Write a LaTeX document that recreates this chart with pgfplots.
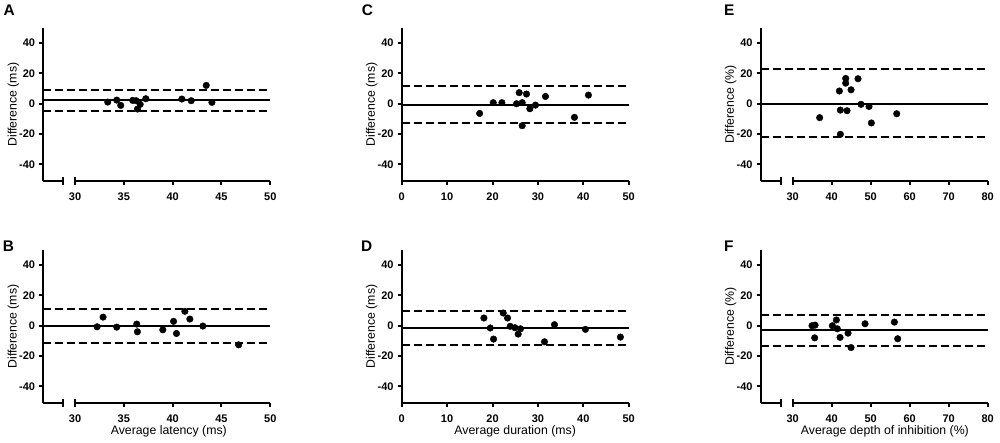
\documentclass[border=0pt]{standalone}
\usepackage{pgfplots}
\pgfplotsset{compat=1.18}
\usepackage{fontspec}
\setmainfont{Liberation Sans}
\newcommand{\tickfont}{\fontsize{11}{12}\selectfont\bfseries}
\newcommand{\labfont}{\fontsize{12.3}{14}\selectfont}
\newcommand{\letfont}{\fontsize{15.4}{17}\selectfont\bfseries}
\tikzset{brk/.style={line width=2pt, black}}
\pgfplotsset{
  bapanel/.style={
    scale only axis, width=227pt, height=153pt,
    ymin=-51, ymax=50,
    axis x line*=bottom, axis y line*=left,
    axis line style={line width=2pt, -},
    ytick={-40,-20,0,20,40}, yticklabels={-40,-20,0,20,40},
    tick align=outside, major tick length=4pt,
    every tick/.style={line width=2pt, black},
    minor tick num=0,
    ticklabel style={font=\tickfont},
    yticklabel style={anchor=east, inner sep=0pt, xshift=-4pt},
    xticklabel style={anchor=base, inner sep=0pt, yshift=-15.5pt},
    every axis y label/.style={at={(axis description cs:-0.132,0.5)}, rotate=90, anchor=center, font=\labfont},
    every axis x label/.style={at={(axis description cs:0.5,-0.185)}, anchor=center, font=\labfont},
    clip=false,
  },
  dots/.style={only marks, mark=*, mark size=3.3pt, mark options={fill=black, draw=black}},
  meanl/.style={line width=2pt, black, no marks},
  limitl/.style={line width=2pt, black, no marks, dash pattern=on 8pt off 4pt},
}
\begin{document}
\begin{tikzpicture}
\useasboundingbox (0,0) rectangle (1000pt,443pt);
% ---------- A ----------
\begin{axis}[bapanel, at={(43.3pt,262pt)}, anchor=south west,
  xmin=26.75, xmax=50, xtick={30,35,40,45,50}, xticklabels={30,35,40,45,50},
  x axis line style={draw=none}, ylabel={Difference (ms)}]
\addplot[meanl] coordinates {(26.75,2.2) (50,2.2)};
\addplot[limitl] coordinates {(26.75,9.2) (50,9.2)};
\addplot[limitl] coordinates {(26.75,-5.1) (50,-5.1)};
\addplot[dots] coordinates {(33.35,1.1) (34.27,2.4) (34.68,-1.1) (35.9,2.2) (36.26,2.0) (36.4,-3.5) (36.67,-0.4) (37.25,3.3) (40.94,3.1) (41.9,2.0) (43.44,12.1) (44.02,0.9)};
\draw[brk] (axis cs:26.75,-51) -- (axis cs:28.8,-51);
\draw[brk] ([yshift=-4pt]axis cs:28.8,-51) -- ([yshift=4pt]axis cs:28.8,-51);
\draw[brk] (axis cs:30,-51) -- (axis cs:50,-51);
\draw[brk] ([yshift=-4pt]axis cs:30,-51) -- ([yshift=4pt]axis cs:30,-51);
\end{axis}
% ---------- B ----------
\begin{axis}[bapanel, at={(43.3pt,40pt)}, anchor=south west,
  xmin=26.75, xmax=50, xtick={30,35,40,45,50}, xticklabels={30,35,40,45,50},
  x axis line style={draw=none}, ylabel={Difference (ms)}, xlabel={Average latency (ms)},
  xlabel style={at={(axis description cs:0.553,-0.185)}}]
\addplot[meanl] coordinates {(26.75,0) (50,0)};
\addplot[limitl] coordinates {(26.75,11.3) (50,11.3)};
\addplot[limitl] coordinates {(26.75,-11.7) (50,-11.7)};
\addplot[dots] coordinates {(32.26,-0.7) (32.87,5.7) (34.27,-0.9) (36.32,1.1) (36.39,-4.0) (38.99,-2.7) (40.09,2.9) (40.39,-5.1) (41.25,9.5) (41.76,4.4) (43.09,-0.2) (46.75,-12.6)};
\draw[brk] (axis cs:26.75,-51) -- (axis cs:28.8,-51);
\draw[brk] ([yshift=-4pt]axis cs:28.8,-51) -- ([yshift=4pt]axis cs:28.8,-51);
\draw[brk] (axis cs:30,-51) -- (axis cs:50,-51);
\draw[brk] ([yshift=-4pt]axis cs:30,-51) -- ([yshift=4pt]axis cs:30,-51);
\end{axis}
% ---------- C ----------
\begin{axis}[bapanel, at={(401.7pt,262pt)}, anchor=south west,
  xmin=0, xmax=50, xtick={0,10,20,30,40,50}, xticklabels={0,10,20,30,40,50},
  ylabel={Difference (ms)}]
\addplot[meanl] coordinates {(0,-0.9) (50,-0.9)};
\addplot[limitl] coordinates {(0,11.9) (50,11.9)};
\addplot[limitl] coordinates {(0,-13.0) (50,-13.0)};
\addplot[dots] coordinates {(17.16,-6.4) (20.16,0.7) (22.07,0.7) (25.29,0) (25.88,7.3) (26.54,0.7) (26.54,-14.5) (27.49,6.4) (28.23,-3.3) (29.47,-0.9) (31.67,4.8) (38.05,-9.0) (41.13,5.7)};
\end{axis}
% ---------- D ----------
\begin{axis}[bapanel, at={(401.7pt,40pt)}, anchor=south west,
  xmin=0, xmax=50, xtick={0,10,20,30,40,50}, xticklabels={0,10,20,30,40,50},
  ylabel={Difference (ms)}, xlabel={Average duration (ms)}]
\addplot[meanl] coordinates {(0,-1.8) (50,-1.8)};
\addplot[limitl] coordinates {(0,9.7) (50,9.7)};
\addplot[limitl] coordinates {(0,-12.8) (50,-12.8)};
\addplot[dots] coordinates {(18.11,5.1) (19.5,-1.5) (20.23,-8.8) (22.36,8.4) (23.31,5.1) (23.9,-0.4) (24.93,-1.3) (25.66,-5.5) (26.17,-2.0) (31.45,-10.6) (33.65,0.7) (40.47,-2.4) (48.17,-7.5)};
\end{axis}
% ---------- E ----------
\begin{axis}[bapanel, at={(760.7pt,262pt)}, anchor=south west,
  xmin=21.8, xmax=80, xtick={30,40,50,60,70,80}, xticklabels={30,40,50,60,70,80},
  x axis line style={draw=none}, ylabel={Difference (\%)}]
\addplot[meanl] coordinates {(21.8,0) (80,0)};
\addplot[limitl] coordinates {(21.8,23.1) (80,23.1)};
\addplot[limitl] coordinates {(21.8,-22.0) (80,-22.0)};
\addplot[dots] coordinates {(36.92,-9.2) (41.97,8.4) (42.22,-4.2) (42.22,-20.2) (43.59,16.7) (43.59,13.6) (43.93,-4.6) (44.96,9.2) (46.75,16.5) (47.52,-0.4) (49.57,-1.8) (50.17,-12.7) (56.67,-6.6)};
\draw[brk] (axis cs:21.8,-51) -- (axis cs:27.0,-51);
\draw[brk] ([yshift=-4pt]axis cs:27.0,-51) -- ([yshift=4pt]axis cs:27.0,-51);
\draw[brk] (axis cs:30,-51) -- (axis cs:80,-51);
\draw[brk] ([yshift=-4pt]axis cs:30,-51) -- ([yshift=4pt]axis cs:30,-51);
\end{axis}
% ---------- F ----------
\begin{axis}[bapanel, at={(760.7pt,40pt)}, anchor=south west,
  xmin=21.8, xmax=80, xtick={30,40,50,60,70,80}, xticklabels={30,40,50,60,70,80},
  x axis line style={draw=none}, ylabel={Difference (\%)}, xlabel={Average depth of inhibition (\%)},
  xlabel style={at={(axis description cs:0.547,-0.185)}}]
\addplot[meanl] coordinates {(21.8,-3.1) (80,-3.1)};
\addplot[limitl] coordinates {(21.8,7.1) (80,7.1)};
\addplot[limitl] coordinates {(21.8,-13.3) (80,-13.3)};
\addplot[dots] coordinates {(34.96,0) (35.73,0.4) (35.64,-8.0) (40.17,0) (41.2,3.8) (41.45,-2.0) (42.14,-7.7) (44.19,-4.9) (44.96,-14.4) (48.55,1.3) (56.07,2.4) (56.92,-8.6)};
\draw[brk] (axis cs:21.8,-51) -- (axis cs:27.0,-51);
\draw[brk] ([yshift=-4pt]axis cs:27.0,-51) -- ([yshift=4pt]axis cs:27.0,-51);
\draw[brk] (axis cs:30,-51) -- (axis cs:80,-51);
\draw[brk] ([yshift=-4pt]axis cs:30,-51) -- ([yshift=4pt]axis cs:30,-51);
\end{axis}
% ---------- panel letters ----------
\node[anchor=base west, inner sep=0pt, font=\letfont] at (3.3pt,427pt) {A};
\node[anchor=base west, inner sep=0pt, font=\letfont] at (2.7pt,191.3pt) {B};
\node[anchor=base west, inner sep=0pt, font=\letfont] at (361.7pt,427pt) {C};
\node[anchor=base west, inner sep=0pt, font=\letfont] at (361pt,191.3pt) {D};
\node[anchor=base west, inner sep=0pt, font=\letfont] at (724pt,427pt) {E};
\node[anchor=base west, inner sep=0pt, font=\letfont] at (724pt,191.3pt) {F};
\end{tikzpicture}
\end{document}
